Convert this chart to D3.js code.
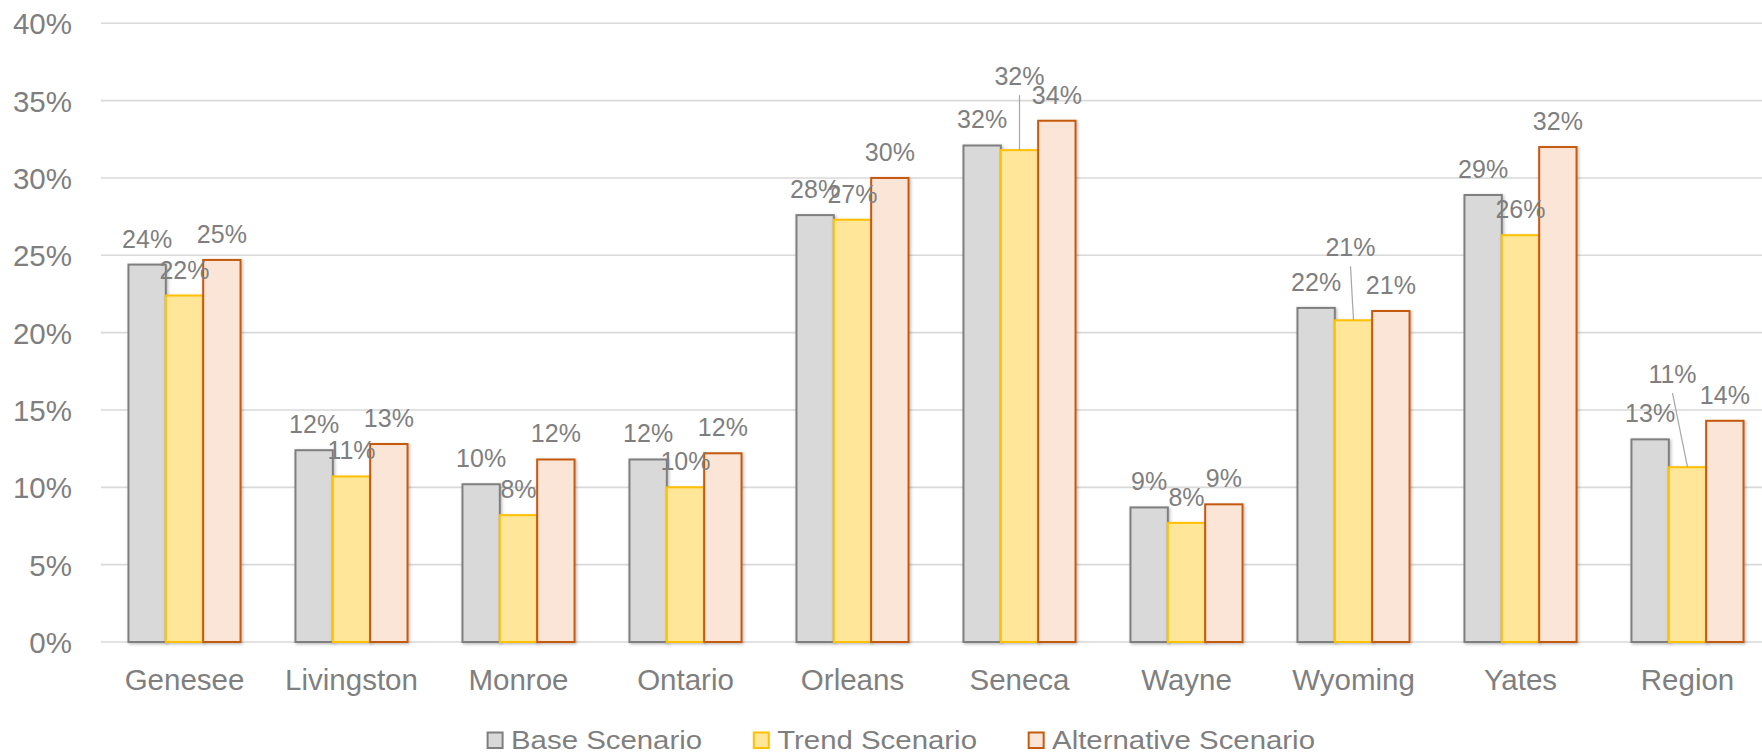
<!DOCTYPE html>
<html>
<head>
<meta charset="utf-8">
<script src="https://cdn.jsdelivr.net/npm/d3@7"></script>
<style>
  html, body { margin: 0; padding: 0; background: #ffffff; }
  svg { display: block; }
  text { font-family: "Liberation Sans", Arial, sans-serif; fill: #7f7f7f; }
</style>
</head>
<body>
<svg id="chart" width="1762" height="754"></svg>
<script>
// ---- data ----
const categories = ["Genesee", "Livingston", "Monroe", "Ontario", "Orleans", "Seneca", "Wayne", "Wyoming", "Yates", "Region"];
const seriesNames = ["Base Scenario", "Trend Scenario", "Alternative Scenario"];
const baseValues  = [24.4, 12.4, 10.2, 11.8, 27.6, 32.1, 8.7, 21.6, 28.9, 13.1];
const trendValues = [22.4, 10.7, 8.2, 10.0, 27.3, 31.8, 7.7, 20.8, 26.3, 11.3];
const altValues   = [24.7, 12.8, 11.8, 12.2, 30.0, 33.7, 8.9, 21.4, 32.0, 14.3];
const yTicks = [0, 5, 10, 15, 20, 25, 30, 35, 40];

// ---- styles / layout (kept apart from data) ----
const fills   = ["#d9d9d9", "#ffe699", "#fbe5d6"];
const strokes = ["#7f7f7f", "#ffc000", "#c55a11"];
// manual label moves (pixels), with leader lines, as in the reference
const labelMoves = [
  { series: 1, cat: "Seneca",  dx: 0,   dy: -48 },
  { series: 1, cat: "Wyoming", dx: -3,  dy: -47 },
  { series: 1, cat: "Region",  dx: -15, dy: -67 }
];

const series = [baseValues, trendValues, altValues];
const svg = d3.select("#chart");

const x = d3.scaleBand().domain(categories).range([101, 1771]).paddingInner(0.329).paddingOuter(0.1645);
const xs = d3.scaleBand().domain(d3.range(series.length)).range([0, x.bandwidth()]);
const y = d3.scaleLinear().domain([0, 40]).range([642, 23.3]);

const defs = svg.append("defs");
const f = defs.append("filter").attr("id", "shadow").attr("x", "-20%").attr("y", "-20%").attr("width", "150%").attr("height", "150%");
f.append("feDropShadow").attr("dx", 1.2).attr("dy", 1.2).attr("stdDeviation", 1.4).attr("flood-color", "#000").attr("flood-opacity", 0.28);

// gridlines
svg.append("g").selectAll("line").data(yTicks).join("line")
  .attr("x1", 101).attr("x2", 1771)
  .attr("y1", d => y(d)).attr("y2", d => y(d))
  .attr("stroke", "#d9d9d9").attr("stroke-width", 1.6);

// y axis labels
const yAxis = d3.axisLeft(y).tickValues(yTicks).tickFormat(d => d + "%").tickSize(0).tickPadding(0);
const ya = svg.append("g").attr("transform", "translate(72,0)").call(yAxis);
ya.select(".domain").remove();
ya.selectAll("text").attr("font-size", 29.5).attr("fill", "#7f7f7f").attr("dy", "0.36em")
  .style("font-family", '"Liberation Sans", Arial, sans-serif');

// x axis labels
const xAxis = d3.axisBottom(x).tickSize(0).tickPadding(0);
const xa = svg.append("g").attr("transform", "translate(0,690)").call(xAxis);
xa.select(".domain").remove();
xa.selectAll("text").attr("font-size", 29.5).attr("fill", "#7f7f7f").attr("dy", 0)
  .style("font-family", '"Liberation Sans", Arial, sans-serif');

// bars
const groups = svg.append("g").selectAll("g").data(categories).join("g")
  .attr("transform", d => `translate(${x(d)},0)`);
groups.selectAll("rect").data((c, i) => series.map((s, k) => ({ k, v: s[i], c }))).join("rect")
  .attr("x", d => xs(d.k))
  .attr("width", xs.bandwidth())
  .attr("y", d => y(d.v))
  .attr("height", d => y(0) - y(d.v))
  .attr("fill", d => fills[d.k])
  .attr("stroke", d => strokes[d.k])
  .attr("stroke-width", 2)
  .attr("filter", "url(#shadow)");

// data labels
const labelData = [];
categories.forEach((c, i) => series.forEach((s, k) => {
  const mv = labelMoves.find(m => m.series === k && m.cat === c);
  const bx = x(c) + xs(k) + xs.bandwidth() / 2;
  const by = y(s[i]);
  labelData.push({ c, k, v: s[i], bx, by,
    lx: bx + (mv ? mv.dx : 0), ly: by - 17 + (mv ? mv.dy : 0), moved: !!mv });
}));
svg.append("g").selectAll("line").data(labelData.filter(d => d.moved)).join("line")
  .attr("x1", d => d.lx).attr("y1", d => d.ly + 10)
  .attr("x2", d => d.bx).attr("y2", d => d.by)
  .attr("stroke", "#a6a6a6").attr("stroke-width", 1.2);
svg.append("g").selectAll("text").data(labelData).join("text")
  .attr("x", d => d.lx).attr("y", d => d.ly)
  .attr("text-anchor", "middle").attr("font-size", 25)
  .text(d => Math.round(d.v) + "%");

// legend
const lg = svg.append("g");
let cx = 486.6;
seriesNames.forEach((name, k) => {
  lg.append("rect").attr("x", cx + 1).attr("y", 732.5).attr("width", 15).attr("height", 15.5)
    .attr("fill", fills[k]).attr("stroke", strokes[k]).attr("stroke-width", 2);
  const t = lg.append("text").attr("x", cx + 24.4).attr("y", 748.5).attr("font-size", 26).text(name);
  const w = t.node().getComputedTextLength() * 1.13;
  t.attr("textLength", w).attr("lengthAdjust", "spacingAndGlyphs");
  cx += 24.4 + w + 50.7;
});
</script>
</body>
</html>
